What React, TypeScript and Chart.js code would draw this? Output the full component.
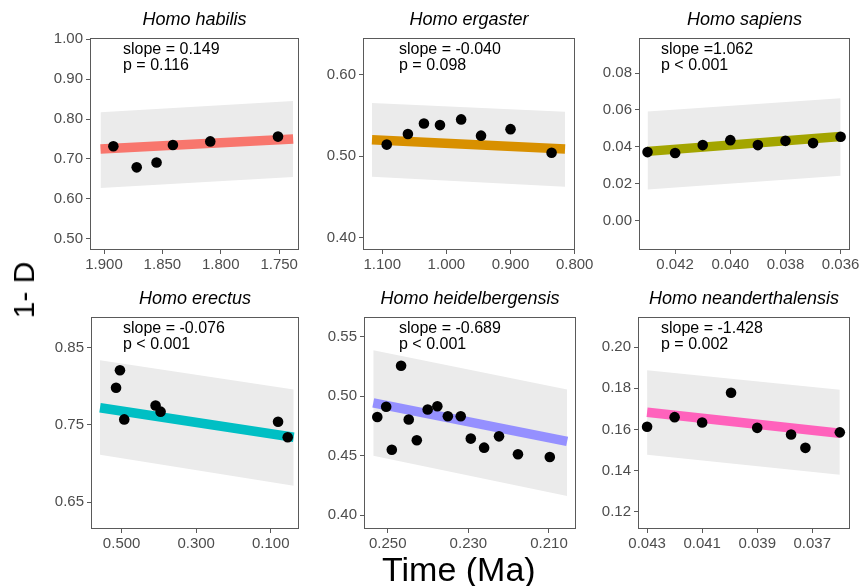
import React, { useEffect, useRef } from "react";
import { Chart, registerables } from "chart.js";

Chart.register(...registerables);

const FONT = "'Liberation Sans', Arial, Helvetica, sans-serif";

// ---------- Homo habilis ----------
const habilisTime = [1.892, 1.872, 1.855, 1.841, 1.809, 1.751];
const habilisD = [0.732, 0.679, 0.691, 0.735, 0.744, 0.756];
const habilisFitTime = [1.903, 1.738];
const habilisFitD = [0.725, 0.75];
const habilisUpper = [0.817, 0.845];
const habilisLower = [0.627, 0.655];
const habilisXTicks = [1.9, 1.85, 1.8, 1.75];
const habilisYTicks = [0.5, 0.6, 0.7, 0.8, 0.9, 1.0];

// ---------- Homo ergaster ----------
const ergasterTime = [1.093, 1.06, 1.035, 1.01, 0.977, 0.946, 0.9, 0.836];
const ergasterD = [0.514, 0.527, 0.54, 0.538, 0.545, 0.525, 0.533, 0.504];
const ergasterFitTime = [1.116, 0.815];
const ergasterFitD = [0.52, 0.5085];
const ergasterUpper = [0.565, 0.5545];
const ergasterLower = [0.4746, 0.4623];
const ergasterXTicks = [1.1, 1.0, 0.9, 0.8];
const ergasterYTicks = [0.4, 0.5, 0.6];

// ---------- Homo sapiens ----------
const sapiensTime = [0.043, 0.042, 0.041, 0.04, 0.039, 0.038, 0.037, 0.036];
const sapiensD = [0.0371, 0.0366, 0.0409, 0.0436, 0.0409, 0.0432, 0.042, 0.0454];
const sapiensFitTime = [0.043, 0.036];
const sapiensFitD = [0.0375, 0.0456];
const sapiensUpper = [0.0591, 0.0663];
const sapiensLower = [0.0168, 0.0243];
const sapiensXTicks = [0.042, 0.04, 0.038, 0.036];
const sapiensYTicks = [0.0, 0.02, 0.04, 0.06, 0.08];

// ---------- Homo erectus ----------
const erectusTime = [0.515, 0.5045, 0.493, 0.409, 0.3955, 0.0804, 0.0545];
const erectusD = [0.798, 0.8205, 0.757, 0.775, 0.767, 0.754, 0.734];
const erectusFitTime = [0.558, 0.0384];
const erectusFitD = [0.772, 0.734];
const erectusUpper = [0.8335, 0.7958];
const erectusLower = [0.7114, 0.6711];
const erectusXTicks = [0.5, 0.3, 0.1];
const erectusYTicks = [0.65, 0.75, 0.85];

// ---------- Homo heidelbergensis ----------
const heidelTime = [0.2526, 0.2504, 0.249, 0.2467, 0.2448, 0.2428, 0.2401, 0.2377, 0.2351, 0.2319, 0.2294, 0.2261, 0.2224, 0.2177, 0.2098];
const heidelD = [0.4826, 0.4911, 0.4551, 0.5256, 0.4804, 0.463, 0.4888, 0.4916, 0.4832, 0.4832, 0.4644, 0.4568, 0.4663, 0.4512, 0.449];
const heidelFitTime = [0.2536, 0.2055];
const heidelFitD = [0.4944, 0.4621];
const heidelUpper = [0.5385, 0.5057];
const heidelLower = [0.45, 0.4163];
const heidelXTicks = [0.25, 0.23, 0.21];
const heidelYTicks = [0.4, 0.45, 0.5, 0.55];

// ---------- Homo neanderthalensis ----------
const neanderTime = [0.043, 0.042, 0.041, 0.03995, 0.039, 0.03777, 0.03725, 0.036];
const neanderD = [0.1613, 0.166, 0.1634, 0.1778, 0.1608, 0.1576, 0.1511, 0.1586];
const neanderFitTime = [0.043, 0.036];
const neanderFitD = [0.1684, 0.1582];
const neanderUpper = [0.1887, 0.1793];
const neanderLower = [0.1477, 0.138];
const neanderXTicks = [0.043, 0.041, 0.039, 0.037];
const neanderYTicks = [0.12, 0.14, 0.16, 0.18, 0.2];

type PanelCfg = {
  title: string;
  color: string;
  time: number[];
  d: number[];
  fitTime: number[];
  fitD: number[];
  upper: number[];
  lower: number[];
  xTicks: number[];
  yTicks: number[];
  xRange: number[];
  yRange: number[];
  xDec: number;
  yDec: number;
  slope: string;
  p: string;
};

const panels: PanelCfg[] = [
  { title: "Homo habilis", color: "#F8766D", time: habilisTime, d: habilisD, fitTime: habilisFitTime, fitD: habilisFitD, upper: habilisUpper, lower: habilisLower, xTicks: habilisXTicks, yTicks: habilisYTicks, xRange: [1.733, 1.912], yRange: [0.472, 1.003], xDec: 3, yDec: 2, slope: "slope = 0.149", p: "p = 0.116" },
  { title: "Homo ergaster", color: "#D89000", time: ergasterTime, d: ergasterD, fitTime: ergasterFitTime, fitD: ergasterFitD, upper: ergasterUpper, lower: ergasterLower, xTicks: ergasterXTicks, yTicks: ergasterYTicks, xRange: [0.7995, 1.13], yRange: [0.3845, 0.645], xDec: 3, yDec: 2, slope: "slope = -0.040", p: "p = 0.098" },
  { title: "Homo sapiens", color: "#A3A500", time: sapiensTime, d: sapiensD, fitTime: sapiensFitTime, fitD: sapiensFitD, upper: sapiensUpper, lower: sapiensLower, xTicks: sapiensXTicks, yTicks: sapiensYTicks, xRange: [0.03566, 0.04331], yRange: [-0.0161, 0.0991], xDec: 3, yDec: 2, slope: "slope =1.062", p: "p < 0.001" },
  { title: "Homo erectus", color: "#00BFC4", time: erectusTime, d: erectusD, fitTime: erectusFitTime, fitD: erectusFitD, upper: erectusUpper, lower: erectusLower, xTicks: erectusXTicks, yTicks: erectusYTicks, xRange: [0.0242, 0.5822], yRange: [0.6153, 0.8894], xDec: 3, yDec: 2, slope: "slope = -0.076", p: "p < 0.001" },
  { title: "Homo heidelbergensis", color: "#9590FF", time: heidelTime, d: heidelD, fitTime: heidelFitTime, fitD: heidelFitD, upper: heidelUpper, lower: heidelLower, xTicks: heidelXTicks, yTicks: heidelYTicks, xRange: [0.2033, 0.2559], yRange: [0.3885, 0.5665], xDec: 3, yDec: 2, slope: "slope = -0.689", p: "p < 0.001" },
  { title: "Homo neanderthalensis", color: "#FF62BC", time: neanderTime, d: neanderD, fitTime: neanderFitTime, fitD: neanderFitD, upper: neanderUpper, lower: neanderLower, xTicks: neanderXTicks, yTicks: neanderYTicks, xRange: [0.03563, 0.04333], yRange: [0.1117, 0.2146], xDec: 3, yDec: 2, slope: "slope = -1.428", p: "p = 0.002" },
];

// plot-area boxes (left, top, width, height) and annotation x-offset
const boxes = [
  { left: 90, top: 38, width: 209, height: 212, noteDx: 33 },
  { left: 363, top: 38, width: 212, height: 212, noteDx: 36 },
  { left: 639, top: 38, width: 211, height: 212, noteDx: 22 },
  { left: 91, top: 317, width: 208, height: 212, noteDx: 32 },
  { left: 364, top: 317, width: 212, height: 212, noteDx: 35 },
  { left: 638, top: 317, width: 212, height: 212, noteDx: 23 },
];

const Y_AXIS_W = 70;
const X_AXIS_H = 45;
const TITLE_H = 38;
const RIGHT_PAD = 30;
const AXIS_COLOR = "#5a5a5a";

function Panel({ cfg, box }: { cfg: PanelCfg; box: (typeof boxes)[number] }) {
  const ref = useRef<HTMLCanvasElement | null>(null);
  const cw = box.width + Y_AXIS_W + RIGHT_PAD;
  const ch = box.height + TITLE_H + X_AXIS_H;

  useEffect(() => {
    if (!ref.current) return;
    const pts = (xs: number[], ys: number[]) => xs.map((x, i) => ({ x, y: ys[i] }));

    const framePlugin = {
      id: "frame",
      afterDraw(chart: any) {
        const { ctx, chartArea: a } = chart;
        ctx.save();
        ctx.strokeStyle = AXIS_COLOR;
        ctx.lineWidth = 1;
        ctx.strokeRect(a.left + 0.5, a.top + 0.5, a.right - a.left - 1, a.bottom - a.top - 1);
        ctx.fillStyle = "#000";
        ctx.font = `16px ${FONT}`;
        ctx.textAlign = "left";
        ctx.textBaseline = "alphabetic";
        ctx.fillText(cfg.slope, a.left + box.noteDx, a.top + 15.5);
        ctx.fillText(cfg.p, a.left + box.noteDx, a.top + 32.2);
        ctx.restore();
      },
    };

    const chart = new Chart(ref.current, {
      type: "scatter",
      data: {
        datasets: [
          {
            label: "points",
            data: pts(cfg.time, cfg.d),
            backgroundColor: "#000",
            borderColor: "#000",
            borderWidth: 0,
            pointRadius: 5.3,
            pointHoverRadius: 5.3,
            order: 0,
          },
          {
            label: "fit",
            data: pts(cfg.fitTime, cfg.fitD),
            showLine: true,
            borderColor: cfg.color,
            backgroundColor: cfg.color,
            borderWidth: 9.5,
            borderCapStyle: "butt",
            pointRadius: 0,
            fill: false,
            order: 1,
          },
          {
            label: "upper",
            data: pts(cfg.fitTime, cfg.upper),
            showLine: true,
            borderColor: "rgba(0,0,0,0)",
            borderWidth: 1,
            pointRadius: 0,
            backgroundColor: "#EBEBEB",
            fill: "+1",
            order: 2,
          },
          {
            label: "lower",
            data: pts(cfg.fitTime, cfg.lower),
            showLine: true,
            borderColor: "rgba(0,0,0,0)",
            borderWidth: 1,
            pointRadius: 0,
            fill: false,
            order: 3,
          },
        ],
      } as any,
      options: {
        animation: false,
        responsive: false,
        maintainAspectRatio: false,
        events: [],
        layout: { padding: { left: 0, right: RIGHT_PAD, top: 0, bottom: 0 } },
        plugins: {
          legend: { display: false },
          tooltip: { enabled: false },
          title: {
            display: true,
            text: cfg.title,
            fullSize: false,
            color: "#000",
            font: { family: FONT, size: 18, style: "italic", weight: "normal", lineHeight: 1.2 },
            padding: { top: 9.6, bottom: TITLE_H - 9.6 - 21.6 },
          },
        },
        scales: {
          x: {
            type: "linear",
            reverse: true,
            min: cfg.xRange[0],
            max: cfg.xRange[1],
            afterFit: (s: any) => {
              s.height = X_AXIS_H;
            },
            afterBuildTicks: (s: any) => {
              s.ticks = cfg.xTicks.map((v) => ({ value: v }));
            },
            grid: { display: true, drawOnChartArea: false, drawTicks: true, tickLength: 4, color: AXIS_COLOR, lineWidth: 1 },
            border: { display: false },
            ticks: {
              color: "#4d4d4d",
              font: { family: FONT, size: 15 },
              padding: 2,
              maxRotation: 0,
              autoSkip: false,
              callback: (v: any) => Number(v).toFixed(cfg.xDec),
            },
          },
          y: {
            type: "linear",
            min: cfg.yRange[0],
            max: cfg.yRange[1],
            afterFit: (s: any) => {
              s.width = Y_AXIS_W;
            },
            afterBuildTicks: (s: any) => {
              s.ticks = cfg.yTicks.map((v) => ({ value: v }));
            },
            grid: { display: true, drawOnChartArea: false, drawTicks: true, tickLength: 4, color: AXIS_COLOR, lineWidth: 1 },
            border: { display: false },
            ticks: {
              color: "#4d4d4d",
              font: { family: FONT, size: 15 },
              padding: 3,
              autoSkip: false,
              callback: (v: any) => Number(v).toFixed(cfg.yDec),
            },
          },
        },
      } as any,
      plugins: [framePlugin],
    });
    return () => chart.destroy();
  }, [cfg, box]);

  return (
    <canvas
      ref={ref}
      width={cw}
      height={ch}
      style={{
        position: "absolute",
        left: box.left - Y_AXIS_W,
        top: box.top - TITLE_H,
        width: cw,
        height: ch,
      }}
    />
  );
}

export default function App() {
  return (
    <div style={{ position: "absolute", left: 0, top: 0, width: 861, height: 586, background: "#fff", overflow: "hidden" }}>
      {panels.map((cfg, i) => (
        <Panel key={cfg.title} cfg={cfg} box={boxes[i]} />
      ))}
      <div
        style={{
          position: "absolute",
          left: 24,
          top: 290,
          transform: "translate(-50%, -50%) rotate(-90deg)",
          fontFamily: FONT,
          fontSize: 30,
          lineHeight: 1,
          whiteSpace: "nowrap",
          color: "#000",
        }}
      >
        1- D
      </div>
      <div
        style={{
          position: "absolute",
          left: 382,
          top: 552,
          fontFamily: FONT,
          fontSize: 34,
          lineHeight: 1,
          whiteSpace: "nowrap",
          color: "#000",
        }}
      >
        Time (Ma)
      </div>
    </div>
  );
}
